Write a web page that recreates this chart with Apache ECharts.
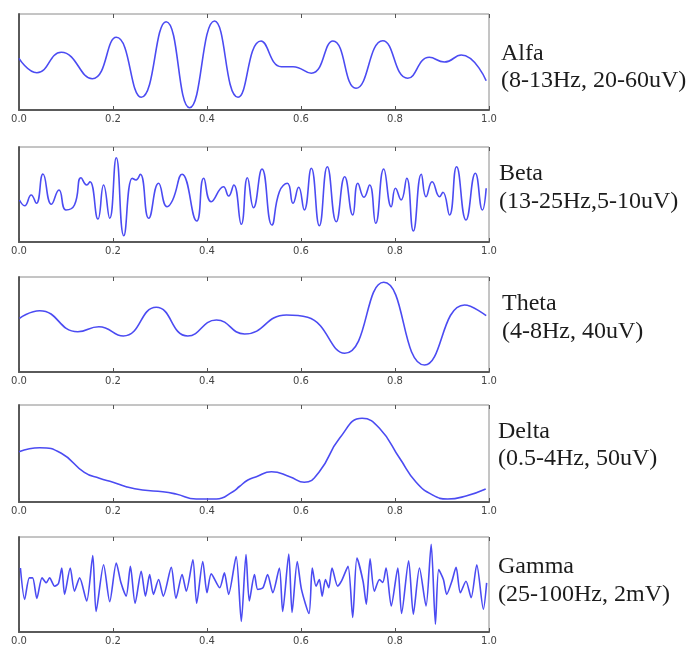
<!DOCTYPE html>
<html>
<head>
<meta charset="utf-8">
<script src="https://cdn.jsdelivr.net/npm/echarts@6/dist/echarts.min.js"></script>
<style>html,body{margin:0;padding:0;background:#fff;}#c{width:691px;height:646px;}</style>
</head>
<body>
<div id="c"></div>
<script>
// ---- data (time in s, amplitude in arbitrary units) ----
const waveNames = ['Alfa', 'Beta', 'Theta', 'Delta', 'Gamma'];
const waveBands = ['(8-13Hz, 20-60uV)', '(13-25Hz,5-10uV)', '(4-8Hz, 40uV)', '(0.5-4Hz, 50uV)', '(25-100Hz, 2mV)'];
const xTickLabels = ['0.0', '0.2', '0.4', '0.6', '0.8', '1.0'];

const alfaT = [0.0, 0.038, 0.090, 0.156, 0.207, 0.260, 0.313, 0.363, 0.416, 0.466, 0.515, 0.558, 0.583, 0.622, 0.668, 0.717, 0.774, 0.827, 0.873, 0.905, 0.941, 0.994];
const alfaV = [3.7, -10.7, 9.7, -16.7, 24.7, -35.3, 40.3, -45.7, 41, -35.3, 21, -4.7, -4.7, -11.3, 21, -26.3, 21.3, -16.3, 4.7, 0, 7, -18.7];

const betaT = [0.001, 0.012, 0.026, 0.037, 0.051, 0.069, 0.085, 0.100, 0.118, 0.132, 0.144, 0.151, 0.168, 0.180, 0.193, 0.207, 0.223, 0.241, 0.249, 0.258, 0.276, 0.297, 0.315, 0.327, 0.347, 0.378, 0.393, 0.409, 0.435, 0.446, 0.457, 0.473, 0.486, 0.499, 0.517, 0.538, 0.554, 0.571, 0.583, 0.595, 0.607, 0.622, 0.639, 0.656, 0.675, 0.693, 0.710, 0.721, 0.734, 0.746, 0.759, 0.776, 0.792, 0.801, 0.813, 0.825, 0.839, 0.856, 0.866, 0.879, 0.895, 0.902, 0.916, 0.931, 0.951, 0.971, 0.986, 0.994];
const betaV = [-5.5, -11.2, -0.5, -8.8, 20.5, -9.8, 4.5, -15.5, -10.5, 16.8, 9.5, 12.8, -24.5, 9.5, -23.8, 36.8, -41.2, 16.2, 14.5, 20.2, -23.8, 11.2, -12.2, -5.5, 20.2, -26.5, 16.2, -7.2, 7.8, -1.5, 9.5, -29.8, 16.8, -13.2, 25.5, -30.5, 2.8, 11.2, -8.8, 7.2, -15.5, 26.2, -31.2, 27.8, -27.2, 17.8, -20.5, 11.2, -2.8, 9.5, -28.8, 25.5, -12.2, 6.2, -5.5, 16.2, -36.5, 20.2, -2.2, 12.8, -2.2, 2.2, -20.5, 27.8, -25.5, 21.2, -15.5, 6.2];

const thetaT = [0.001, 0.044, 0.125, 0.170, 0.222, 0.292, 0.359, 0.420, 0.480, 0.569, 0.614, 0.693, 0.776, 0.863, 0.948, 0.994];
const thetaV = [6.2, 13.8, -7.2, -2.2, -11.5, 17.2, -11.5, 4.5, -9.5, 9.5, 7.2, -28.8, 42.2, -40.5, 19.5, 8.8];

const deltaT = [0.0, 0.044, 0.090, 0.139, 0.171, 0.200, 0.228, 0.263, 0.306, 0.334, 0.377, 0.420, 0.455, 0.469, 0.487, 0.505, 0.537, 0.576, 0.607, 0.639, 0.682, 0.730, 0.767, 0.810, 0.845, 0.880, 0.912, 0.951, 0.993];
const deltaV = [1.8, 5.8, 0.2, -18.8, -24.8, -28.8, -33.2, -36.5, -38.2, -40.5, -45.5, -45.5, -38.2, -33, -26.5, -23.2, -18.2, -23.2, -28.8, -18.2, 15.2, 35.2, 25.2, -4.8, -28.8, -41.5, -45.5, -42.5, -35.5];

const gammaT = [0.003, 0.012, 0.022, 0.029, 0.038, 0.049, 0.058, 0.065, 0.076, 0.084, 0.091, 0.097, 0.109, 0.118, 0.129, 0.144, 0.157, 0.164, 0.180, 0.193, 0.207, 0.217, 0.228, 0.237, 0.247, 0.260, 0.269, 0.278, 0.286, 0.297, 0.307, 0.324, 0.334, 0.347, 0.356, 0.370, 0.378, 0.391, 0.400, 0.409, 0.427, 0.437, 0.446, 0.462, 0.473, 0.483, 0.490, 0.501, 0.508, 0.519, 0.529, 0.540, 0.554, 0.561, 0.574, 0.581, 0.592, 0.601, 0.617, 0.624, 0.632, 0.639, 0.645, 0.652, 0.659, 0.666, 0.678, 0.686, 0.700, 0.710, 0.719, 0.732, 0.739, 0.747, 0.756, 0.767, 0.774, 0.781, 0.792, 0.806, 0.814, 0.829, 0.839, 0.852, 0.866, 0.877, 0.886, 0.893, 0.903, 0.910, 0.921, 0.930, 0.939, 0.951, 0.962, 0.974, 0.988, 0.995];
const gammaV = [16.7, -15, 6.7, 6.7, -14, 6.7, 1.7, 6.7, -1.7, 1, 16.7, -10, 16.7, -6.7, 6.7, -16.7, 29.3, -27.3, 20, -17.3, 21.7, 1.7, -11.7, 18.3, -19, 13.3, -11.7, 10, -10, 5, -11.7, 17.3, -14, 10, -6.7, 25, -19, 23.3, -8.3, 10.7, -3.3, 11.7, -10, 28.3, -37.3, 30.3, -16.7, 10, -5, -3.3, 10, -8.3, 16.7, -27.3, 30.7, -28.3, 23.3, -5, -29.3, 16.7, -1.7, 5, -11.7, 5, -3.3, 16.7, -1.7, 3.3, 18.3, -33.3, 26.7, 3.3, -20, 26, -6.7, 5, 2, 16.7, -21.7, 16.7, -29.3, 24, -30, 16.7, -21.7, 40.7, -40, 15, 5, -10, 3.3, 17.3, -8.3, 3.3, -13.3, 20, -25, 1.7];

const allT = [alfaT, betaT, thetaT, deltaT, gammaT];
const allV = [alfaV, betaV, thetaV, deltaV, gammaV];

// ---- layout / style ----
const panels = [
  { top: 14, height: 96, half: 48, smooth: 0.5 },
  { top: 147, height: 95, half: 47.5, smooth: 0.5 },
  { top: 277, height: 95, half: 47.5, smooth: 0.5 },
  { top: 405, height: 97, half: 48.5, smooth: 0.5 },
  { top: 537, height: 96, half: 48, smooth: 0.25 }
];
const textBase = [[501, 55, 82], [499, 175, 203], [502, 305, 333], [498, 433, 460], [498, 568, 596]];

const grid = [], xAxis = [], yAxis = [], series = [], graphic = [];
panels.forEach((p, i) => {
  grid.push({ left: 19, width: 470, top: p.top, height: p.height, show: true, borderColor: '#8a8a8a', borderWidth: 1, backgroundColor: 'transparent' });
  xAxis.push({
    type: 'value', gridIndex: i, min: 0, max: 1, interval: 0.2, position: 'bottom',
    axisLine: { show: true, onZero: false, lineStyle: { color: '#5a5a5a', width: 2 } },
    axisTick: { show: true, inside: true, length: 4, lineStyle: { color: '#555' } },
    axisLabel: { show: true, margin: 4, fontSize: 10, color: '#444', fontFamily: 'DejaVu Sans',
      formatter: v => xTickLabels[Math.round(v / 0.2)] },
    splitLine: { show: false }
  });
  xAxis.push({
    type: 'value', gridIndex: i, min: 0, max: 1, interval: 0.2, position: 'top',
    axisLine: { show: false, onZero: false },
    axisTick: { show: true, inside: true, length: 4, lineStyle: { color: '#555' } },
    axisLabel: { show: false }, splitLine: { show: false }
  });
  yAxis.push({
    type: 'value', gridIndex: i, min: -p.half, max: p.half,
    axisLine: { show: true, onZero: false, lineStyle: { color: '#5a5a5a', width: 2 } },
    axisTick: { show: false }, axisLabel: { show: false }, splitLine: { show: false }
  });
  series.push({
    type: 'line', xAxisIndex: 2 * i, yAxisIndex: i, showSymbol: false, silent: true,
    smooth: p.smooth, animation: false,
    lineStyle: { color: '#4b4bf2', width: 1.6 },
    data: allT[i].map((t, k) => [t, allV[i][k]])
  });
  const tb = textBase[i];
  graphic.push({ type: 'text', left: tb[0], top: tb[1] - 13, style: { text: waveNames[i], font: '24px "Liberation Serif"', fill: '#1c1c1c' } });
  graphic.push({ type: 'text', left: tb[0], top: tb[2] - 13, style: { text: waveBands[i], font: '24px "Liberation Serif"', fill: '#1c1c1c' } });
});

const chart = echarts.init(document.getElementById('c'), null, { renderer: 'canvas' });
chart.setOption({ animation: false, backgroundColor: '#ffffff', grid, xAxis, yAxis, series, graphic });
</script>
</body>
</html>
